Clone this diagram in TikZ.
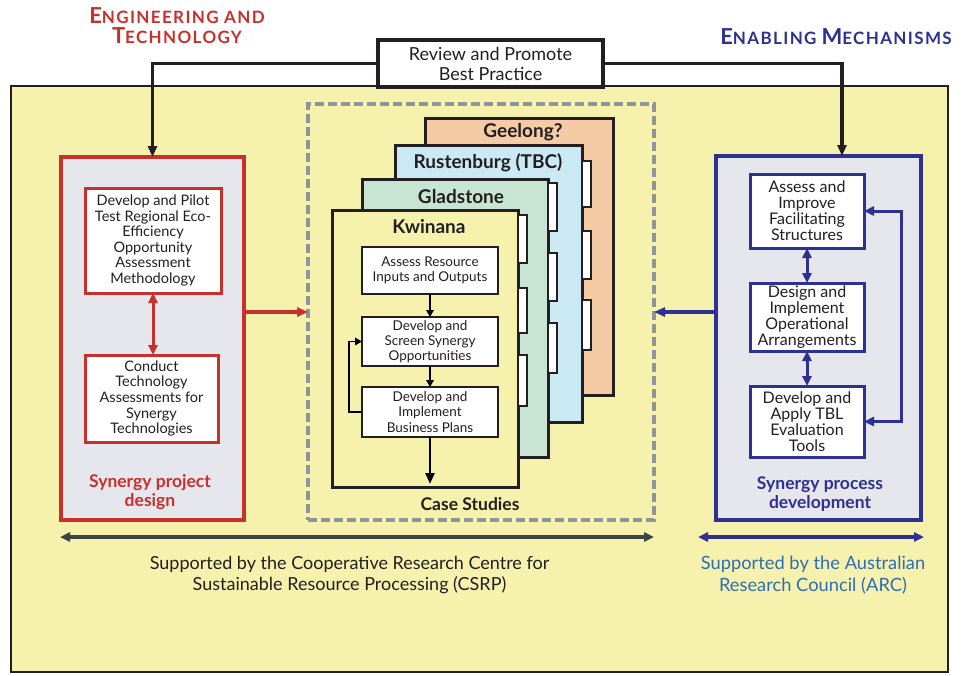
\documentclass[tikz,border=0pt]{standalone}
\usepackage{fontspec}
\setmainfont{Lato}
\usetikzlibrary{arrows.meta}
\definecolor{bgyellow}{HTML}{F7F1AE}
\definecolor{panelgray}{HTML}{E6E7EC}
\definecolor{myred}{HTML}{C8302D}
\definecolor{myblue}{HTML}{2E3192}
\definecolor{arcblue}{HTML}{2F6DB5}
\definecolor{dashgray}{HTML}{8E9598}
\definecolor{peach}{HTML}{F5CBA5}
\definecolor{skyblue}{HTML}{CBE9F4}
\definecolor{mint}{HTML}{C7E5D2}
\definecolor{darkline}{HTML}{3B4545}
\definecolor{textdark}{HTML}{231F20}
\newcommand{\fsz}[2]{\fontsize{#1}{#2}\selectfont}
\newcommand{\capbig}[1]{{\fsz{22}{20}#1}}
\newcommand{\capsm}[1]{{\fsz{17}{20}\addfontfeatures{LetterSpace=8}#1}}
\begin{document}
\begin{tikzpicture}[x=1pt,y=-1pt,
  every node/.style={inner sep=0pt, outer sep=0pt, align=center, text=textdark},
  outerbox/.style={draw=textdark, line width=2.5pt, fill=bgyellow},
  reviewbox/.style={draw=textdark, line width=3.2pt, fill=white, font=\fsz{18}{20}},
  redpanel/.style={draw=myred, line width=3.2pt, fill=panelgray},
  bluepanel/.style={draw=myblue, line width=3.2pt, fill=panelgray},
  redinner/.style={draw=myred, line width=3pt, fill=white, font=\fsz{14.5}{15.6}},
  blueinner/.style={draw=myblue, line width=3pt, fill=white, font=\fsz{16}{16}},
  dashbox/.style={draw=dashgray, line width=3.5pt, dash pattern=on 9pt off 4pt},
  card/.style={draw=textdark, line width=3pt},
  tabbox/.style={draw=textdark, line width=2.2pt, fill=white},
  flowbox/.style={draw=textdark, line width=2.2pt, fill=white, font=\fsz{13.5}{15.2}},
  cardtitle/.style={font=\bfseries\fsz{19}{20}},
  heading/.style={font=\bfseries\fsz{17}{20}},
  arr/.style={-{Triangle[length=11pt,width=9pt]}},
  darr/.style={{Triangle[length=10pt,width=9pt]}-{Triangle[length=10pt,width=9pt]}},
  sarr/.style={-{Triangle[length=7pt,width=7.5pt]}},
]
\useasboundingbox (0,0) rectangle (964,675);
% outer yellow area
\node[outerbox, minimum width=937, minimum height=586] (outer) at (479.5,379) {};
% headings
\node[heading, text=myred] (engT) at (177,26) {\capbig{E}\capsm{NGINEERING AND}\\\capbig{T}\capsm{ECHNOLOGY}};
\node[heading, text=myblue] (enabT) at (836,37) {\capbig{E}\capsm{NABLING}\hspace{5pt}\capbig{M}\capsm{ECHANISMS}};
% review box
\node[reviewbox, minimum width=225, minimum height=47] (review) at (490.5,63.5) {Review and Promote\\Best Practice};
% left panel
\node[redpanel, minimum width=183, minimum height=363] (redpanel) at (152.5,338.5) {};
\node[redinner, minimum width=136, minimum height=105] (rb1) at (153,240.5) {Develop and Pilot\\Test Regional Eco-\\Efficiency\\Opportunity\\Assessment\\Methodology};
\node[redinner, minimum width=133, minimum height=87] (rb2) at (151.5,398.5) {Conduct\\Technology\\Assessments for\\Synergy\\Technologies};
\node[font=\bfseries\fsz{17.5}{19}, text=myred] (redlabel) at (150,492) {Synergy project\\design};
% right panel
\node[bluepanel, minimum width=205, minimum height=364] (bluepanel) at (818.5,338) {};
\node[blueinner, minimum width=114, minimum height=74] (bb1) at (807,211) {Assess and\\Improve\\Facilitating\\Structures};
\node[blueinner, minimum width=114, minimum height=68] (bb2) at (807,317) {Design and\\Implement\\Operational\\Arrangements};
\node[blueinner, minimum width=114, minimum height=71] (bb3) at (807,421.5) {Develop and\\Apply TBL\\Evaluation\\Tools};
\node[font=\bfseries\fsz{17.5}{19}, text=myblue] (bluelabel) at (820,494) {Synergy process\\development};
% case studies
\node[dashbox, minimum width=346, minimum height=416] (dashed) at (481,312) {};
\node[card, fill=peach, minimum width=188, minimum height=277] (geel) at (519,256.5) {};
\node[cardtitle] (geelT) at (523,132) {Geelong?};
\node[card, fill=skyblue, minimum width=187, minimum height=277] (rust) at (488.5,283.5) {};
\node[cardtitle] (rustT) at (488,163) {Rustenburg (TBC)};
\foreach \ya/\yb in {161/207,231/279,300/350}
  \draw[tabbox] (rust.east |- 0,\ya) rectangle ([xshift=9pt]rust.east |- 0,\yb);
\node[card, fill=mint, minimum width=186, minimum height=278] (glad) at (455,318) {};
\node[cardtitle] (gladT) at (461,197) {Gladstone};
\foreach \ya/\yb in {183/231,253/301,323/373}
  \draw[tabbox] (glad.east |- 0,\ya) rectangle ([xshift=9pt]glad.east |- 0,\yb);
\node[card, fill=bgyellow, minimum width=186, minimum height=277] (kwin) at (425,348.5) {};
\node[cardtitle] (kwinT) at (429,227) {Kwinana};
\foreach \ya/\yb in {215/263,288/333,355/406}
  \draw[tabbox] (kwin.east |- 0,\ya) rectangle ([xshift=9pt]kwin.east |- 0,\yb);
\node[flowbox, minimum width=136, minimum height=47] (fa) at (430,270.5) {Assess Resource\\Inputs and Outputs};
\node[flowbox, minimum width=136, minimum height=49] (fb) at (430,341.5) {Develop and\\Screen Synergy\\Opportunities};
\node[flowbox, minimum width=136, minimum height=50] (fc) at (430,412) {Develop and\\Implement\\Business Plans};
\coordinate (kwend) at (430,484);
\draw[sarr, line width=2.6pt] (fa.south) -- (fb.north);
\draw[sarr, line width=2.6pt] (fb.south) -- (fc.north);
\draw[arr, line width=2.6pt] (fc.south) -- (kwend);
\draw[sarr, line width=1.8pt] (fc.west) -- ++(-13,0) |- (fb.west);
\node[font=\bfseries\fsz{17.5}{18}] (caseT) at (470,504) {Case Studies};
% connectors
\draw[arr, line width=3.5pt, textdark] (review.west) -| (redpanel.north);
\draw[arr, line width=3.5pt, textdark] (review.east) -| ([xshift=23.5pt]bluepanel.north);
\draw[darr, line width=3pt, myred] (rb1.south) -- (rb1.south |- rb2.north);
\draw[arr, line width=3.5pt, myred] (redpanel.east |- dashed.west) -- (dashed.west);
\draw[arr, line width=3.5pt, myblue] (bluepanel.west |- dashed.east) -- (dashed.east);
\draw[darr, line width=3pt, myblue] (bb1.south) -- (bb2.north);
\draw[darr, line width=3pt, myblue] (bb2.south) -- (bb3.north);
\draw[darr, line width=3pt, myblue] (bb1.east) -- ++(37,0) |- (bb3.east);
% bottom support arrows
\coordinate (csl) at (60,537);
\coordinate (csr) at (654,537);
\coordinate (arl) at (698,537);
\coordinate (arr) at (924,537);
\draw[darr, line width=3.5pt, darkline] (csl) -- (csr);
\draw[darr, line width=3.5pt, myblue] (arl) -- (arr);
\node[font=\fsz{18}{21.5}, text=textdark] (csrpT) at (349.5,575) {Supported by the Cooperative Research Centre for\\Sustainable Resource Processing (CSRP)};
\node[font=\fsz{18.3}{21.5}, text=arcblue] (arcT) at (813,575) {Supported by the Australian\\Research Council (ARC)};
\end{tikzpicture}
\end{document}
